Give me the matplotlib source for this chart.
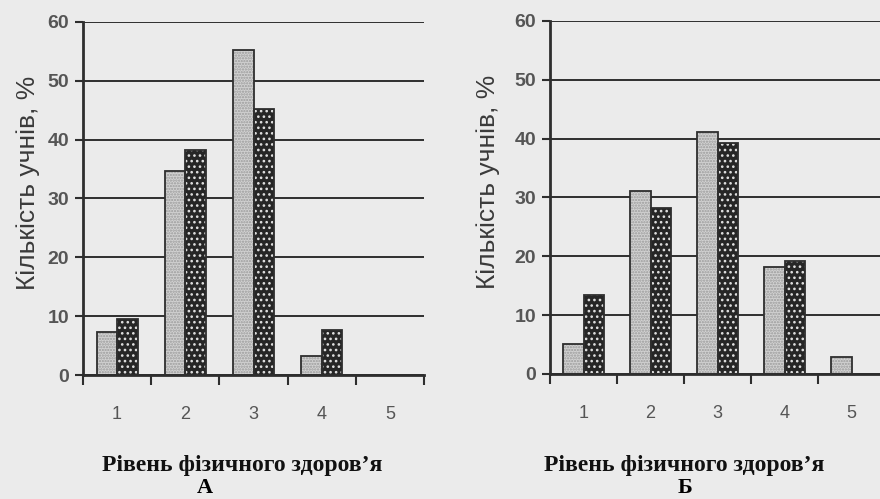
import numpy as np
import matplotlib
matplotlib.use("Agg")
import matplotlib.pyplot as plt

# values (% of pupils per health level)
levels = ["1", "2", "3", "4", "5"]
a_light = [7.3, 34.6, 55.2, 3.2, 0]
a_dark = [9.5, 38.2, 45.2, 7.7, 0]
b_light = [5.1, 31.1, 41.1, 18.2, 2.9]
b_dark = [13.5, 28.2, 39.2, 19.2, 0]
yticks = [0, 10, 20, 30, 40, 50, 60]

bg = "#ebebeb"
ink = "#2e2e2e"
plt.rcParams["font.family"] = ["Liberation Sans", "DejaVu Sans"]
plt.rcParams["hatch.linewidth"] = 1.1

fig = plt.figure(figsize=(8.8, 4.99), dpi=100, facecolor=bg)


def panel(ax, light, dark):
    ax.set_facecolor(bg)
    x = np.arange(1, len(levels) + 1)
    w = 0.3
    # light stippled bars
    ax.bar(x - w / 2, light, w, color="#d2d2d2", edgecolor="#9a9a9a",
           hatch="......", linewidth=0, zorder=3)
    ax.bar(x - w / 2, light, w, fill=False, edgecolor=ink, linewidth=1.3, zorder=4)
    # dark dotted bars
    ax.bar(x + w / 2, dark, w, color="#262626", edgecolor="#e0e0e0",
           hatch="...", linewidth=0, zorder=3)
    ax.bar(x + w / 2, dark, w, fill=False, edgecolor=ink, linewidth=1.3, zorder=4)

    ax.set_xlim(0.5, len(levels) + 0.5)
    ax.set_ylim(0, 60)
    ax.set_yticks(yticks)
    ax.yaxis.grid(True, color=ink, linewidth=1.4, zorder=1)
    ax.set_axisbelow(True)
    for s in ["top", "right"]:
        ax.spines[s].set_visible(False)
    for s in ["left", "bottom"]:
        ax.spines[s].set_color(ink)
        ax.spines[s].set_linewidth(2)
        ax.spines[s].set_zorder(5)
    ax.set_xticks(x)
    ax.set_xticklabels(levels)
    ax.set_xticks(np.arange(0.5, len(levels) + 1), minor=True)
    ax.tick_params(axis="x", which="major", length=0, pad=22,
                   labelsize=13, labelcolor="#555555")
    ax.tick_params(axis="x", which="minor", length=7, width=1.5, color=ink)
    ax.tick_params(axis="y", length=6, width=1.5, color=ink, pad=4,
                   labelsize=14, labelcolor="#555555")
    for lab in ax.get_yticklabels():
        lab.set_fontweight("bold")
    ax.set_ylabel("Кількість учнів, %", fontsize=19, color="#3a3a3a")


ax1 = fig.add_axes([83 / 880, 124 / 499, 341 / 880, 353 / 499])
panel(ax1, a_light, a_dark)
ax1.yaxis.set_label_coords(-0.126, 0.545)

ax2 = fig.add_axes([550 / 880, 125 / 499, 335 / 880, 353 / 499])
panel(ax2, b_light, b_dark)
ax2.yaxis.set_label_coords(-0.15, 0.545)

xl = "Рівень фізичного здоров’я"
serif = ["Liberation Serif", "DejaVu Serif"]
fig.text(242 / 880, 1 - 465 / 499, xl, ha="center", va="center",
         fontsize=17, fontweight="bold", family=serif, color="#111111")
fig.text(684 / 880, 1 - 465 / 499, xl, ha="center", va="center",
         fontsize=17, fontweight="bold", family=serif, color="#111111")
fig.text(205 / 880, 1 - 488 / 499, "А", ha="center", va="center",
         fontsize=16, fontweight="bold", family=serif)
fig.text(685 / 880, 1 - 488 / 499, "Б", ha="center", va="center",
         fontsize=16, fontweight="bold", family=serif)

fig.savefig("out.png", dpi=100, facecolor=bg)
